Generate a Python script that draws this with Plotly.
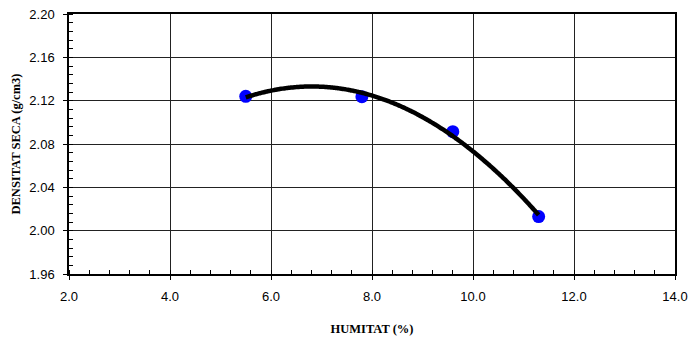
import numpy as np
import plotly.graph_objects as go

# Data
humitat = [5.5, 7.8, 9.6, 11.3]            # HUMITAT (%)
densitat = [2.124, 2.1237, 2.0914, 2.013]   # DENSITAT SECA (g/cm3)

x_ticks = [2.0, 4.0, 6.0, 8.0, 10.0, 12.0, 14.0]
y_ticks = [1.96, 2.00, 2.04, 2.08, 2.12, 2.16, 2.20]

# Polynomial (order 2) trendline as in the spreadsheet chart
coef = np.polyfit(humitat, densitat, 2)
xs = np.linspace(min(humitat), max(humitat), 200)
ys = np.polyval(coef, xs)

fig = go.Figure()
fig.add_trace(go.Scatter(
    x=humitat, y=densitat, mode="markers",
    marker=dict(color="#0000FF", size=13, line=dict(width=0)),
    showlegend=False, hoverinfo="x+y", cliponaxis=False))
fig.add_trace(go.Scatter(
    x=xs, y=ys, mode="lines",
    line=dict(color="black", width=4.5, shape="spline"),
    showlegend=False, hoverinfo="skip"))

tick_font = dict(family="Liberation Sans, Arial, sans-serif", size=13, color="black")
title_font = dict(family="Liberation Serif, Times New Roman, serif", size=12.5, color="black")

fig.update_layout(
    width=690, height=338,
    margin=dict(l=69, r=15, t=14, b=64),
    paper_bgcolor="white", plot_bgcolor="white",
)
fig.update_xaxes(
    range=[2.0, 14.0], tickvals=x_ticks, ticktext=[f"{v:.1f}" for v in x_ticks],
    showgrid=True, gridcolor="#222222", gridwidth=1,
    showline=True, linecolor="black", linewidth=1.5, mirror=True,
    ticks="outside", ticklen=4, tickcolor="black", tickwidth=1,
    minor=dict(dtick=0.4, ticks="inside", ticklen=4, tickcolor="black", showgrid=False),
    tickfont=tick_font, ticklabelstandoff=6,
    zeroline=False, automargin=False,
    title=dict(text="<b>HUMITAT (%)</b>", font=title_font, standoff=21),
)
fig.update_yaxes(
    range=[1.96, 2.20], tickvals=y_ticks, ticktext=[f"{v:.2f}" for v in y_ticks],
    showgrid=True, gridcolor="#222222", gridwidth=1,
    showline=True, linecolor="black", linewidth=1.5, mirror=True,
    ticks="outside", ticklen=4, tickcolor="black", tickwidth=1,
    minor=dict(dtick=0.008, ticks="inside", ticklen=4, tickcolor="black", showgrid=False),
    tickfont=tick_font, ticklabelstandoff=6,
    zeroline=False, automargin=False,
    title=dict(text="<b>DENSITAT SECA (g/cm3)</b>", font=title_font, standoff=6),
)

fig.write_html(
    "out.html",
    config={"displayModeBar": False},
    post_script="document.body.style.margin='0';document.body.style.padding='0';"
                "document.documentElement.style.overflow='hidden';",
)
